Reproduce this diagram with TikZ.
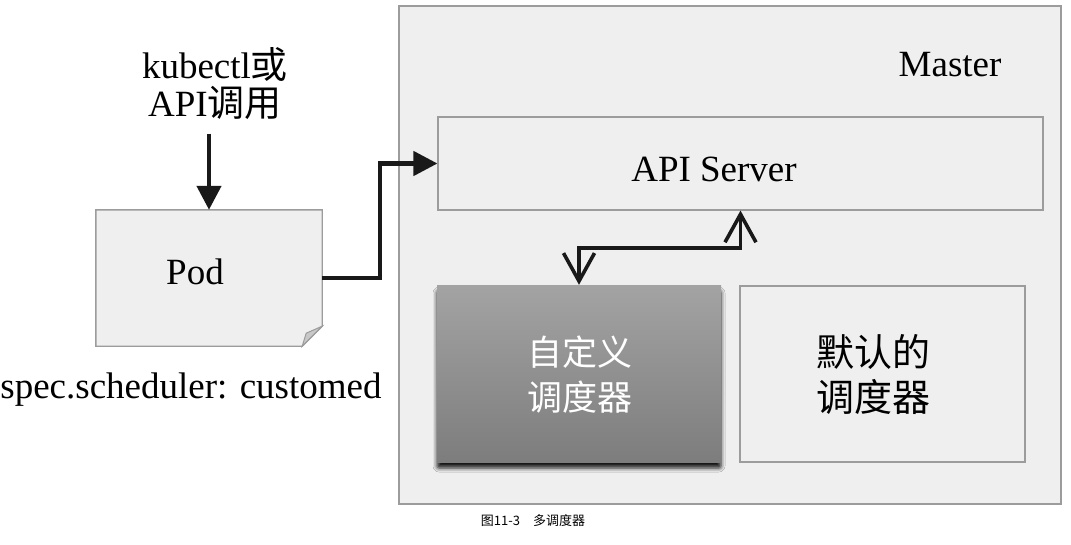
\documentclass[tikz,border=0pt]{standalone}
\usepackage{fontspec}
\setmainfont{Liberation Serif}
\newfontfamily\cjk{Noto Sans CJK SC}
\usetikzlibrary{positioning}
\usetikzlibrary{arrows.meta}
\usetikzlibrary{shadows.blur}
\definecolor{boxfill}{HTML}{EFEFEF}
\definecolor{boxline}{HTML}{9C9C9C}
\definecolor{foldfill}{HTML}{C8C8C8}
\tikzset{
  boxnode/.style={draw=boxline, line width=1.4pt, fill=boxfill, inner sep=0pt},
  flowarrow/.style={-{Triangle[length=24pt,width=24pt]}, line width=4.5pt, black!90},
  biarrow/.style={{Straight Barb[length=28pt,width=31pt]}-{Straight Barb[length=28pt,width=31pt]}, line width=3.6pt, black!90},
  bigtext/.style={font=\fontsize{37}{38}\selectfont, align=center},
  cjktext/.style={font=\fontsize{36}{45}\selectfont\cjk, align=center}
}
\begin{document}
\begin{tikzpicture}[x=1pt, y=-1pt]
            \useasboundingbox[fill=white] (0,0) rectangle (1071,544);
            % Master and its parts
            \node[boxnode, minimum width=662pt, minimum height=498pt] (master) at (730,255) {};
            \node[bigtext, anchor=east] (mastertitle) at (1005,65) {Master};
            \node[boxnode, line width=1.1pt, minimum width=605pt, minimum height=93pt] (api) at (740.5,163.5) {};
            \node[bigtext] (apilabel) at (714,169) {API Server};
            \node[minimum width=284pt, minimum height=177pt, inner sep=0pt, top color=black!36, bottom color=black!51,
                  blur shadow={shadow xshift=0pt, shadow yshift=-6pt, shadow blur radius=4pt, shadow blur extra rounding=2pt, shadow opacity=90}] (custom) at (579,373.5) {};
            \node[cjktext, font=\fontsize{35}{45}\selectfont\cjk, text=white] (customlabel) at (580,374.5) {自定义\\调度器};
            \node[boxnode, line width=1.1pt, minimum width=285pt, minimum height=176pt] (default) at (882.5,374) {};
            \node[cjktext, font=\fontsize{38}{45}\selectfont\cjk] (defaultlabel) at (873,374.5) {默认的\\调度器};

            % Pod with folded corner
            \node[minimum width=226pt, minimum height=136pt, inner sep=0pt] (pod) at (209,278) {};
            \draw[boxline, line width=1.4pt, fill=boxfill] (pod.north west) -- (pod.north east) -- ([yshift=20pt]pod.south east)
                -- ([xshift=-20pt]pod.south east) -- (pod.south west) -- cycle;
            \draw[boxline, line width=1pt, fill=foldfill] ([yshift=20pt]pod.south east) -- ([xshift=-20pt]pod.south east)
                -- ([xshift=-16pt,yshift=13pt]pod.south east) -- cycle;
            \node[bigtext] (podlabel) at (195,272) {Pod};
            \node[bigtext] (podspec) at (191,390) {spec.scheduler: customed};

            \node[bigtext] (call) at (215,84) {kubectl{\cjk 或}\\API{\cjk 调用}};

            \draw[flowarrow, shorten <=10pt] (call.south -| pod.north) -- (pod.north);
            \draw[flowarrow] (pod.east) -- ++(58,0) |- (api.west);
            \draw[biarrow] (custom.north) -- ++(0,-37) -| (api.south);

            \node[font=\fontsize{13}{14}\selectfont\cjk] (caption) at (533,521) {图11-3\quad 多调度器};
        \end{tikzpicture}
\end{document}
